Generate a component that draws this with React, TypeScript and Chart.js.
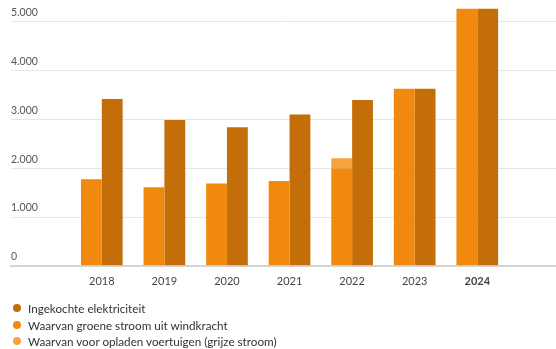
import React, { useEffect, useRef } from "react";
import { Chart, registerables } from "chart.js";

Chart.register(...registerables);

const years = [2018, 2019, 2020, 2021, 2022, 2023, 2024];
const ingekocht = [3420, 2990, 2840, 3100, 3400, 3630, 5270];
const windkracht = [1775, 1610, 1685, 1740, 2000, 3630, 5270];
const grijs = [null, null, null, null, 205, null, null];
const yTicks = [0, 1000, 2000, 3000, 4000, 5000];
const highlightYear = 2024;

const seriesLabels = [
  "Ingekochte elektriciteit",
  "Waarvan groene stroom uit windkracht",
  "Waarvan voor opladen voertuigen (grijze stroom)",
];
const seriesColors = ["#C46E0A", "#F0890E", "#F5A33C"];

const FONT = "Lato, 'Open Sans', sans-serif";

export default function App() {
  const ref = useRef<HTMLCanvasElement | null>(null);

  useEffect(() => {
    if (!ref.current) return;
    const toPts = (arr: (number | null)[]) => years.map((x, i) => ({ x, y: arr[i] }));
    const chart = new Chart(ref.current, {
      type: "bar",
      data: {
        datasets: [
          {
            label: seriesLabels[1],
            data: toPts(windkracht) as any,
            backgroundColor: seriesColors[1],
            stack: "a",
          },
          {
            label: seriesLabels[2],
            data: toPts(grijs) as any,
            backgroundColor: seriesColors[2],
            stack: "a",
          },
          {
            label: seriesLabels[0],
            data: toPts(ingekocht) as any,
            backgroundColor: seriesColors[0],
            stack: "b",
          },
        ],
      },
      options: {
        animation: false,
        responsive: false,
        maintainAspectRatio: false,
        datasets: { bar: { categoryPercentage: 0.666, barPercentage: 1 } },
        layout: { padding: { left: 11, right: 0, top: 1, bottom: 52 } },
        plugins: { legend: { display: false }, tooltip: { enabled: false } },
        scales: {
          x: {
            type: "linear",
            offset: false,
            min: 2016.549,
            max: 2025.258,
            afterBuildTicks: (axis: any) => {
              axis.ticks = years.map((v) => ({ value: v }));
            },
            grid: { display: false, drawTicks: false, offset: false },
            border: { display: true, color: "#d4d4d4", width: 2 },
            ticks: {
              padding: 9,
              color: "#444444",
              autoSkip: false,
              maxRotation: 0,
              callback: (v: any) => String(v),
              font: (ctx: any) => ({
                family: FONT,
                size: 11,
                weight: ctx.tick && ctx.tick.value === highlightYear ? "bold" : "normal",
              }),
            },
          },
          y: {
            stacked: true,
            min: 0,
            max: 5320,
            afterBuildTicks: (axis: any) => {
              axis.ticks = yTicks.map((v) => ({ value: v }));
            },
            grid: { color: "#e6e6e6", lineWidth: 1, drawTicks: false },
            border: { display: false },
            ticks: {
              mirror: true,
              padding: 0,
              labelOffset: -9,
              color: "#555555",
              font: { family: FONT, size: 10.5 },
              callback: (v: any) => Number(v).toLocaleString("nl-NL"),
            },
          },
        },
      },
    });
    return () => chart.destroy();
  }, []);

  const legendOrder = [0, 1, 2];

  return (
    <div style={{ position: "fixed", left: 0, top: 0, width: 556, height: 349, background: "#fff" }}>
      <canvas ref={ref} width={556} height={349} style={{ display: "block" }} />
      <div
        style={{
          position: "absolute",
          left: 13,
          top: 300,
          fontFamily: FONT,
          fontSize: 11.7,
          color: "#333",
          lineHeight: "16.5px",
        }}
      >
        {legendOrder.map((i) => (
          <div key={i} style={{ display: "flex", alignItems: "center", whiteSpace: "nowrap" }}>
            <span
              style={{
                display: "inline-block",
                width: 8,
                height: 8,
                borderRadius: "50%",
                background: seriesColors[i],
                marginRight: 7,
              }}
            />
            <span>{seriesLabels[i]}</span>
          </div>
        ))}
      </div>
    </div>
  );
}
